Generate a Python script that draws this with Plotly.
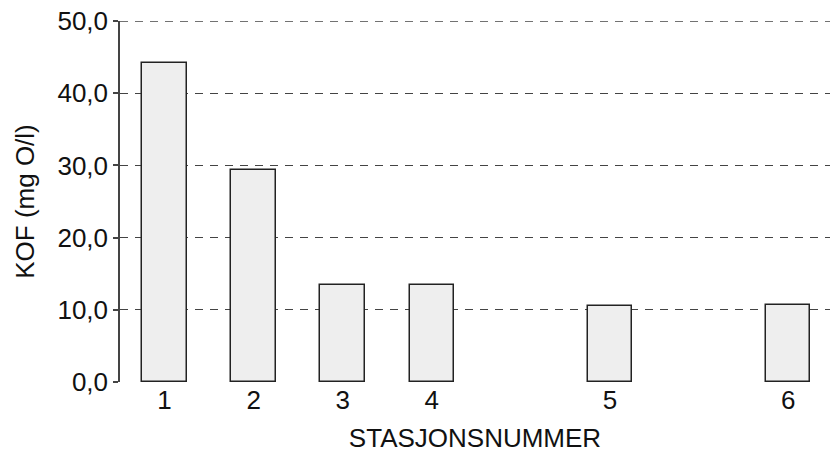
import plotly.graph_objects as go

stations = ["1", "2", "3", "4", "5", "6"]
station_x = [1, 2, 3, 4, 6, 8]
kof = [44.2, 29.3, 13.4, 13.4, 10.5, 10.6]
y_ticks = [0, 10, 20, 30, 40, 50]

fig = go.Figure()
fig.add_trace(go.Bar(
    x=station_x, y=kof, width=0.5,
    marker=dict(color="#eeeeee", line=dict(color="#222222", width=1.5)),
    showlegend=False, hoverinfo="skip",
))
fig.add_hline(y=y_ticks[-1], line=dict(color="#444444", width=1.5, dash="8px,7px"))

font = dict(family="Liberation Sans, Arial, sans-serif", size=26, color="#111111")
fig.update_layout(
    width=830, height=457,
    margin=dict(l=120, r=0, t=21, b=75),
    plot_bgcolor="white", paper_bgcolor="white",
    separators=",.",
    font=font,
    bargap=0,
)
fig.update_xaxes(
    range=[0.5, 8.47], tickvals=station_x, ticktext=stations,
    showgrid=False, zeroline=False, showline=False, ticks="",
    title=dict(text="STASJONSNUMMER", font=font, standoff=14),
    tickfont=font, automargin=False, ticklabeloverflow="allow",
)
fig.update_yaxes(
    range=[0, 50], tickvals=y_ticks, tickformat=".1f",
    showgrid=True, gridcolor="#444444", griddash="8px,7px", gridwidth=1,
    zeroline=False, showline=True, linecolor="#444444", linewidth=1.5,
    ticks="outside", ticklen=5, tickcolor="#444444", tickwidth=1.5,
    title=dict(text="KOF (mg O/l)", font=font, standoff=15),
    tickfont=font, automargin=False, ticklabeloverflow="allow",
)
fig.write_html(
    "out.html",
    config={"displayModeBar": False},
    post_script="document.body.style.margin='0';document.body.style.overflow='hidden';",
)
